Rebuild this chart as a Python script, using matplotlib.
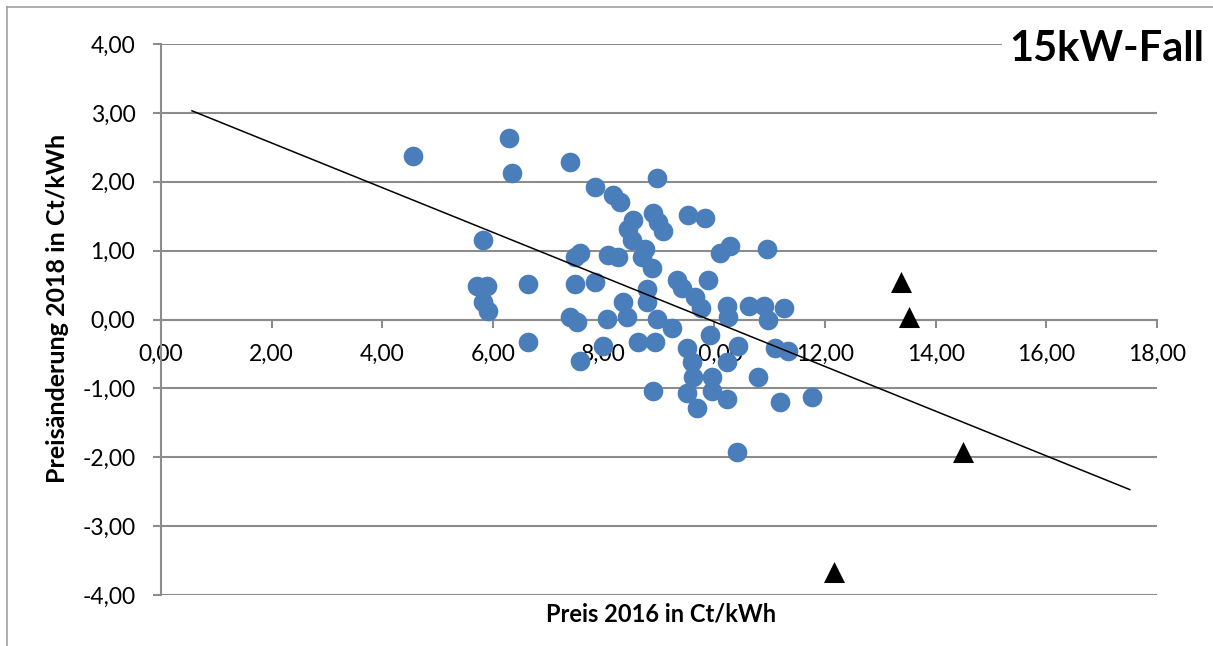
import matplotlib.pyplot as plt
from matplotlib.ticker import FuncFormatter, MultipleLocator
from matplotlib.lines import Line2D

plt.rcParams['font.family'] = ['Lato', 'DejaVu Sans']

# Preis 2016 (x) und Preisänderung 2018 (y) je Netzbetreiber
preis_2016 = [
    4.56, 6.29, 6.34, 7.39, 7.84, 8.17, 8.30, 8.97, 8.53, 8.89,
    8.99, 9.08, 8.44, 8.51, 9.52, 9.83, 5.82, 5.71, 5.89, 5.82,
    5.91, 6.63, 6.63, 7.48, 7.57, 7.48, 7.84, 7.39, 7.51, 7.57,
    7.99, 8.06, 8.08, 8.26, 8.75, 8.70, 8.88, 10.10, 10.28, 10.96,
    9.33, 9.41, 9.88, 8.79, 8.79, 8.35, 8.42, 9.65, 9.76, 10.23,
    10.25, 10.63, 10.90, 11.25, 10.97, 8.97, 9.24, 9.92, 11.10, 11.34,
    10.43, 8.62, 8.93, 9.50, 10.23, 9.59, 9.61, 9.96, 10.79, 8.90,
    9.50, 9.96, 10.23, 9.68, 11.19, 11.76, 10.41,
]
aenderung_2018 = [
    2.37, 2.63, 2.12, 2.28, 1.93, 1.81, 1.70, 2.05, 1.45, 1.55,
    1.41, 1.29, 1.31, 1.16, 1.52, 1.48, 1.15, 0.48, 0.48, 0.26,
    0.12, 0.51, -0.33, 0.91, 0.96, 0.51, 0.54, 0.03, -0.04, -0.60,
    -0.39, 0.01, 0.94, 0.91, 1.02, 0.91, 0.75, 0.97, 1.06, 1.02,
    0.58, 0.46, 0.58, 0.44, 0.26, 0.25, 0.04, 0.33, 0.17, 0.19,
    0.03, 0.19, 0.19, 0.17, 0.00, 0.01, -0.12, -0.23, -0.41, -0.46,
    -0.39, -0.33, -0.32, -0.41, -0.61, -0.62, -0.84, -0.83, -0.84, -1.04,
    -1.06, -1.04, -1.16, -1.28, -1.20, -1.13, -1.93,
]

# Ausreißer (Dreiecke)
ausreisser_x = [13.38, 13.52, 14.50, 12.16]
ausreisser_y = [0.55, 0.03, -1.93, -3.67]

# Trendlinie (Endpunkte)
trend_x = [0.56, 17.51]
trend_y = [3.03, -2.47]

W, H = 1213, 646
fig = plt.figure(figsize=(W / 100, H / 100), dpi=100)
ax = fig.add_axes([161 / W, 1 - 595 / H, (1157 - 161) / W, (595 - 44) / H])

grid_col = '#8c8c8c'
ax.set_xlim(0, 18)
ax.set_ylim(-4, 4)
ax.xaxis.set_major_locator(MultipleLocator(2))
ax.yaxis.set_major_locator(MultipleLocator(1))
fmt = FuncFormatter(lambda v, p: f'{v:.2f}'.replace('.', ','))
ax.xaxis.set_major_formatter(fmt)
ax.yaxis.set_major_formatter(fmt)

ax.grid(axis='y', color=grid_col, linewidth=1.5)
ax.set_axisbelow(True)
for s in ['top', 'right']:
    ax.spines[s].set_visible(False)
ax.spines['bottom'].set_position(('data', 0))
for s in ['left', 'bottom']:
    ax.spines[s].set_color(grid_col)
    ax.spines[s].set_linewidth(1.5)

ax.tick_params(axis='x', direction='out', length=5.5, width=1.5, color=grid_col,
               pad=12, labelsize=16.5)
ax.tick_params(axis='y', direction='out', length=5.5, width=1.5, color=grid_col,
               pad=13, labelsize=16.5)

ax.scatter(preis_2016, aenderung_2018, s=200, color='#4a7ebb', zorder=3,
           linewidths=0)
ax.scatter(ausreisser_x, ausreisser_y, s=230, marker='^', color='black',
           zorder=3, linewidths=0)
ax.plot(trend_x, trend_y, color='black', linewidth=1.1, zorder=4)

fig.text(661 / W, 1 - 614 / H, 'Preis 2016 in Ct/kWh', ha='center',
         va='center', fontsize=17, fontweight='bold')
fig.text(58 / W, 1 - 308 / H, 'Preisänderung 2018 in Ct/kWh', ha='center',
         va='center', rotation=90, fontsize=18, fontweight='bold')
fig.text(1204 / W, 1 - 61 / H, '15kW-Fall', ha='right', va='baseline',
         fontsize=30, fontweight='bold',
         bbox=dict(facecolor='white', edgecolor='none', pad=5))

# Rahmen oben und links
fig.add_artist(Line2D([7 / W, 7 / W], [0, 1 - 7 / H], color='#a0a0a0',
                      linewidth=1.2, transform=fig.transFigure))
fig.add_artist(Line2D([7 / W, 1], [1 - 7 / H, 1 - 7 / H], color='#a0a0a0',
                      linewidth=1.2, transform=fig.transFigure))

fig.savefig('out.png', dpi=100)
